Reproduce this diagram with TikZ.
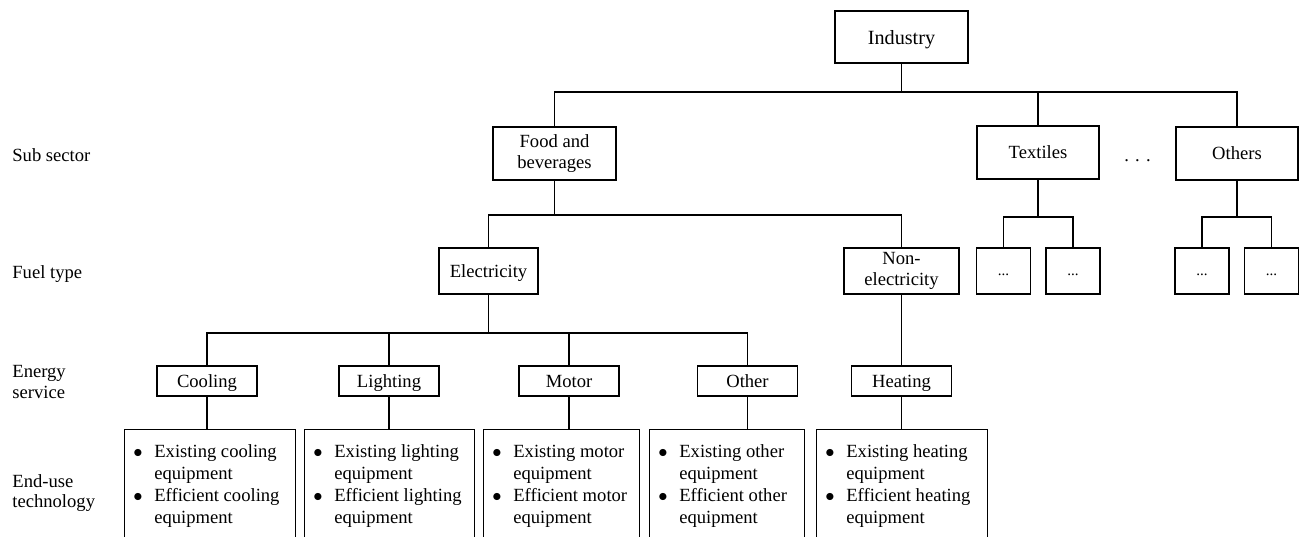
\documentclass[tikz,border=0pt]{standalone}
\usepackage{fontspec}
\setmainfont{Liberation Serif}
% two bulleted entries, each spread over two lines
\newcommand\bulletpair[4]{%
  \begin{tabular}{@{}l@{\hspace{5.85pt}}l@{}}
    $\bullet$ & #1\\
              & #2\\
    $\bullet$ & #3\\
              & #4
  \end{tabular}}
\tikzset{
  box/.style={draw, line width=0.7pt, inner sep=1pt, align=center,
              font=\fontsize{9.3}{10.75}\selectfont},
  subbox/.style={box, minimum width=61pt, minimum height=26.5pt},
  fuelbox/.style={box, minimum height=23pt},
  svcbox/.style={box, minimum width=50pt, minimum height=15pt,
                 text height=6.6pt, text depth=0.2pt},
  dotbox/.style={box, minimum width=27pt, minimum height=23pt,
                 text height=6.5pt, text depth=1.9pt,
                 font=\fontsize{7.5}{9}\selectfont},
  eubox/.style={draw, line width=0.7pt, anchor=north west,
                minimum height=62pt, inner sep=0pt},
  eutext/.style={anchor=north west, inner sep=0pt,
                 font=\fontsize{9.3}{11}\selectfont},
  lvl/.style={anchor=west, inner sep=0pt, align=left,
              font=\fontsize{9.3}{10.4}\selectfont},
  link/.style={line width=0.7pt},
}
\begin{document}
\begin{tikzpicture}[x=0.5pt, y=-0.5pt]
\useasboundingbox (0,0) rectangle (1299,536);
\clip (0,0) rectangle (1299,536);

% level labels
\node[lvl] (lsub)  at (12,155)   {Sub sector};
\node[lvl] (lfuel) at (12,273.7) {Fuel type};
\node[lvl] (lsvc)  at (12,382)   {Energy\\service};
\node[lvl] (leu)   at (12,493)   {End-use\\technology};

% root and sub sectors
\node[box, font=\fontsize{10.1}{12}\selectfont, minimum width=66.5pt,
      minimum height=26pt, text depth=0pt] (ind) at (901.5,37) {Industry};
\node[subbox, minimum width=61.5pt] (food) at (554.5,153.5) {Food and\\beverages};
\node[subbox] (tex) at (1038,152.5) {Textiles};
\node[subbox] (oth) at (1237,153.5) {Others};
\node[inner sep=0pt, anchor=base, font=\fontsize{9.3}{11}\selectfont]
      (more) at (1137.5,161) {. . .};

% fuel types
\node[fuelbox, minimum width=49.5pt, text depth=0pt] (elec) at (488.5,271) {Electricity};
\node[fuelbox, minimum width=57.5pt] (nonel) at (901.5,271) {Non-\\electricity};
\node[dotbox] (t1) at (1003.5,271) {...};
\node[dotbox] (t2) at (1073,271)   {...};
\node[dotbox] (o1) at (1202,271)   {...};
\node[dotbox] (o2) at (1271.5,271) {...};

% energy services
\node[svcbox] (cool)  at (207,381)   {Cooling};
\node[svcbox] (light) at (389,381)   {Lighting};
\node[svcbox] (motor) at (569,381)   {Motor};
\node[svcbox] (other) at (747.5,381) {Other};
\node[svcbox] (heat)  at (901.5,381) {Heating};

% end-use technologies
\node[eubox, minimum width=85.5pt] (eu1) at (124,429) {};
\node[eubox, minimum width=85pt]   (eu2) at (304,429) {};
\node[eubox, minimum width=78pt]   (eu3) at (483,429) {};
\node[eubox, minimum width=77.5pt] (eu4) at (649,429) {};
\node[eubox, minimum width=85.5pt] (eu5) at (816,429) {};
\node[eutext] (eut1) at ([xshift=4.5pt, yshift=-6.3pt]eu1.north west)
  {\bulletpair{Existing cooling}{equipment}{Efficient cooling}{equipment}};
\node[eutext] (eut2) at ([xshift=4.5pt, yshift=-6.3pt]eu2.north west)
  {\bulletpair{Existing lighting}{equipment}{Efficient lighting}{equipment}};
\node[eutext] (eut3) at ([xshift=4.5pt, yshift=-6.3pt]eu3.north west)
  {\bulletpair{Existing motor}{equipment}{Efficient motor}{equipment}};
\node[eutext] (eut4) at ([xshift=4.5pt, yshift=-6.3pt]eu4.north west)
  {\bulletpair{Existing other}{equipment}{Efficient other}{equipment}};
\node[eutext] (eut5) at ([xshift=4.5pt, yshift=-6.3pt]eu5.north west)
  {\bulletpair{Existing heating}{equipment}{Efficient heating}{equipment}};

% heights of the horizontal bus lines
\coordinate (b1) at (0,92);
\coordinate (b2) at (0,215);
\coordinate (b3) at (0,333);
\coordinate (b4) at (0,217);

% connectors
\draw[link] (ind.south) -- (ind.south |- b1);
\draw[link] (food.north) |- (oth.north |- b1) -- (oth.north);
\draw[link] (tex.north) -- (tex.north |- b1);

\draw[link] (food.south) -- (food.south |- b2);
\draw[link] (elec.north) |- (nonel.north |- b2) -- (nonel.north);

\draw[link] (tex.south) -- (tex.south |- b4);
\draw[link] (t1.north) |- (t2.north |- b4) -- (t2.north);
\draw[link] (oth.south) -- (oth.south |- b4);
\draw[link] (o1.north) |- (o2.north |- b4) -- (o2.north);

\draw[link] (elec.south) -- (elec.south |- b3);
\draw[link] (cool.north) |- (other.north |- b3) -- (other.north);
\draw[link] (light.north) -- (light.north |- b3);
\draw[link] (motor.north) -- (motor.north |- b3);
\draw[link] (nonel.south) -- (heat.north);

\draw[link] (cool.south)  -- (cool.south |- eu1.north);
\draw[link] (light.south) -- (light.south |- eu2.north);
\draw[link] (motor.south) -- (motor.south |- eu3.north);
\draw[link] (other.south) -- (other.south |- eu4.north);
\draw[link] (heat.south)  -- (heat.south |- eu5.north);
\end{tikzpicture}
\end{document}
